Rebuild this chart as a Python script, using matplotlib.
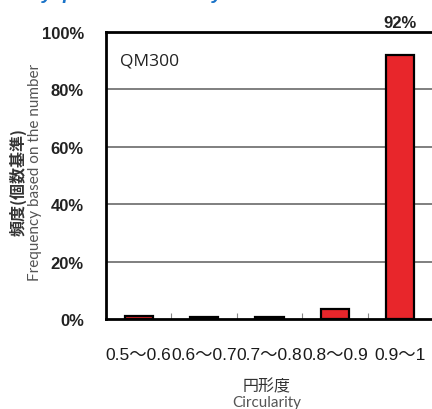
import matplotlib
matplotlib.use("Agg")
import matplotlib.pyplot as plt
from matplotlib.ticker import FixedLocator

categories = ["0.5〜0.6", "0.6〜0.7", "0.7〜0.8", "0.8〜0.9", "0.9〜1"]
values = [1.0, 0.8, 0.7, 3.6, 92.0]
yticks = [0, 20, 40, 60, 80, 100]
ytick_labels = ["0%", "20%", "40%", "60%", "80%", "100%"]
top_label = "92%"
series_name = "QM300"

plt.rcParams['font.family'] = ['Liberation Sans', 'Noto Sans CJK JP', 'DejaVu Sans']

fig = plt.figure(figsize=(4.32, 4.10), dpi=100)
ax = fig.add_axes([106/432, 1 - 320/410, 327/432, 287/410])

x = list(range(len(categories)))
ax.bar(x, values, width=0.43, color="#e8262b", edgecolor="black", linewidth=1.6, zorder=3)

ax.set_xlim(-0.5, len(categories) - 0.5)
ax.set_ylim(0, 100)
ax.set_yticks(yticks)
ax.set_yticklabels(ytick_labels, fontsize=12, fontweight='bold', color="#222222")
ax.set_xticks(x)
ax.set_xticklabels(categories, fontsize=12.5, color="#1a1a1a")
ax.tick_params(axis='y', length=0, pad=16)
ax.tick_params(axis='x', which='major', length=0, pad=20)
ax.xaxis.set_minor_locator(FixedLocator([0.5, 1.5, 2.5, 3.5]))
ax.tick_params(axis='x', which='minor', direction='in', length=4, width=0.8, color="#888888")

for v in [20, 40, 60, 80]:
    ax.axhline(v, color="#6a6a6a", linewidth=1.2, zorder=1)

for s in ax.spines.values():
    s.set_linewidth(2.0)
    s.set_color("black")

ax.text(0.043, 0.899, series_name, transform=ax.transAxes, fontsize=12.5,
        family=['Open Sans', 'DejaVu Sans'], color="#222222", va='center')

ax.annotate(top_label, xy=(4, 100), xycoords='data', xytext=(0, 1.5),
            textcoords='offset points', ha='center', va='bottom',
            fontsize=12, fontweight='bold', color="#222222", annotation_clip=False)

# y axis label (two lines)
fig.text(18/432, 1 - 182/410, "頻度(個数基準)", rotation=90, ha='center', va='center',
         fontsize=11.5, fontweight='bold', color="#333333",
         family=['Noto Sans CJK JP', 'DejaVu Sans'])
fig.text(35/432, 1 - 172/410, "Frequency based on the number", rotation=90,
         ha='center', va='center', fontsize=11, color="#555555",
         family=['Lato', 'DejaVu Sans'])

# x axis label (two lines)
fig.text(267/432, 1 - 387/410, "円形度", ha='center', va='center', fontsize=11.5,
         color="#333333", family=['Noto Sans CJK JP', 'DejaVu Sans'])
fig.text(267/432, 1 - 403/410, "Circularity", ha='center', va='center', fontsize=11,
         color="#555555", family=['Lato', 'DejaVu Sans'])

# cropped heading at the very top (only descenders visible, as in the reference)
for xp, ch in [(42, "y"), (62, "p"), (212, "y")]:
    fig.text(xp/432, 1 + 1/410, ch, ha='left', va='baseline', fontsize=14,
             fontweight='bold', color="#1a73c8", style='italic')

fig.savefig("out.png", dpi=100)
